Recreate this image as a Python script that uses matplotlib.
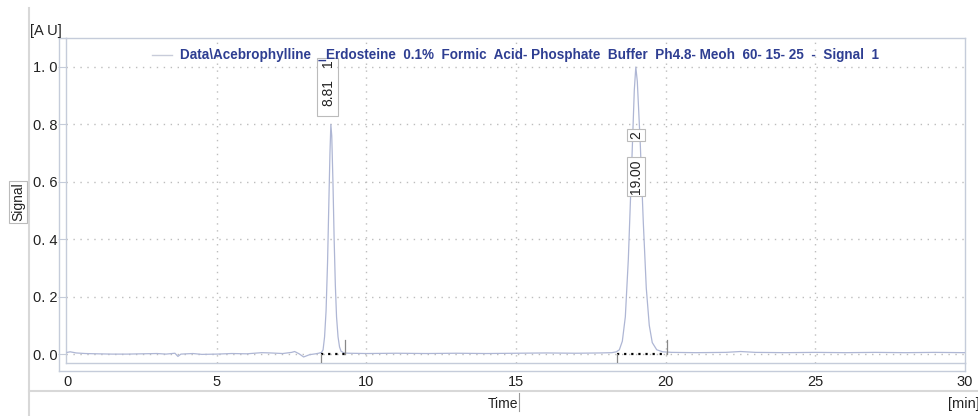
import matplotlib
matplotlib.use("Agg")
import matplotlib.pyplot as plt
from matplotlib.lines import Line2D
from matplotlib.patches import Rectangle
import numpy as np

# ---------------- data ----------------
time_min = [0.0, 0.1, 0.3, 0.6, 1.0, 1.5, 2.0, 2.5, 3.0, 3.3, 3.6, 3.7, 3.8, 4.2, 4.5,
            5.0, 5.5, 6.0, 6.5, 6.8, 7.2, 7.5, 7.6, 7.75, 7.9, 8.1, 8.3,
            8.40, 8.50, 8.55, 8.60, 8.65, 8.70, 8.75, 8.78, 8.81, 8.84, 8.88, 8.92,
            8.96, 9.00, 9.05, 9.10, 9.15, 9.25, 9.40,
            10.0, 11.0, 12.0, 13.0, 14.0, 15.0, 16.0, 17.0, 17.8, 18.2,
            18.35, 18.45, 18.55, 18.65, 18.75, 18.85, 18.95, 19.00, 19.05, 19.15,
            19.25, 19.35, 19.45, 19.55, 19.70, 19.90,
            20.2, 21.0, 22.0, 22.5, 23.0, 24.0, 25.0, 26.0, 27.0, 28.0, 29.0, 30.0]
signal_au = [0.006, 0.008, 0.004, 0.002, 0.001, 0.000, 0.000, 0.001, 0.002, 0.000, 0.003, -0.008, 0.000, 0.002, -0.001,
             0.000, 0.002, 0.001, 0.005, 0.004, 0.002, 0.006, 0.009, 0.001, -0.010, -0.002, 0.001,
             0.003, 0.006, 0.015, 0.060, 0.150, 0.320, 0.560, 0.700, 0.800, 0.760, 0.600, 0.400,
             0.240, 0.130, 0.060, 0.025, 0.010, 0.004, 0.003,
             0.002, 0.003, 0.002, 0.003, 0.002, 0.003, 0.004, 0.003, 0.004, 0.005,
             0.008, 0.015, 0.045, 0.130, 0.330, 0.620, 0.920, 1.000, 0.950, 0.730,
             0.460, 0.230, 0.100, 0.040, 0.015, 0.008,
             0.006, 0.005, 0.006, 0.009, 0.006, 0.005, 0.006, 0.005, 0.006, 0.005, 0.006, 0.005]

peak_numbers = ["1", "2"]
peak_rt = [8.81, 19.00]
peak_rt_labels = ["8.81", "19.00"]
peak_start = [8.49, 18.37]
peak_end = [9.28, 20.04]

x_ticks = [0, 5, 10, 15, 20, 25, 30]
x_tick_labels = ["0", "5", "10", "15", "20", "25", "30"]
y_ticks = [0.0, 0.2, 0.4, 0.6, 0.8, 1.0]
y_tick_labels = ["0. 0", "0. 2", "0. 4", "0. 6", "0. 8", "1. 0"]

legend_text = r"Data\Acebrophylline  _Erdosteine  0.1%  Formic  Acid- Phosphate  Buffer  Ph4.8- Meoh  60- 15- 25  -  Signal  1"

# ---------------- figure ----------------
W, H = 979, 416
fig = plt.figure(figsize=(W / 100, H / 100), dpi=100)
fig.patch.set_facecolor("white")

def fx(x):
    return x / W

def fy(y):
    return 1 - y / H

frame_c = "#C5CCDA"
panel_c = "#D8D8D8"
trace_c = "#AEB6D4"
grid_c = "#BDBDBD"
blue_c = "#2E3E92"
fam = ["Liberation Sans", "DejaVu Sans"]

ax_l, ax_r, ax_t, ax_b = 66, 965, 38, 363
ax = fig.add_axes([fx(ax_l), fy(ax_b), (ax_r - ax_l) / W, (ax_b - ax_t) / H])
ax.set_xlim(-0.04, 30.0)
ax.set_ylim(-0.031, 1.101)

for s in ax.spines.values():
    s.set_color(frame_c)
    s.set_linewidth(1.0)

ax.plot(time_min, signal_au, color=trace_c, lw=0.9, zorder=3)

# grid
for yv in y_ticks:
    ax.axhline(yv, color=grid_c, lw=1.0, ls=(0, (1, 4)), zorder=1)
for xv in x_ticks[1:-1]:
    ax.axvline(xv, color=grid_c, lw=1.0, ls=(0, (1, 4)), zorder=1)

ax.set_xticks(x_ticks)
ax.set_xticklabels(x_tick_labels)
ax.set_yticks(y_ticks)
ax.set_yticklabels(y_tick_labels)
ax.tick_params(axis="x", length=0, pad=9, labelsize=10.5, labelcolor="#222222")
ax.tick_params(axis="y", length=6, width=0.8, color=frame_c, pad=0, labelsize=10.5, labelcolor="#222222")
for lab in ax.get_xticklabels() + ax.get_yticklabels():
    lab.set_fontfamily(fam)

# integration baselines
for s0, e0 in zip(peak_start, peak_end):
    ax.plot([s0, e0], [0.0, 0.0], color="black", lw=1.6, ls=(0, (1, 2.2)), zorder=4)
    ax.plot([s0, s0], [-0.031, 0.0], color="#888888", lw=0.9, zorder=4)
    ax.plot([e0, e0], [0.0, 0.05], color="#888888", lw=0.9, zorder=4)

# peak labels (rotated, boxed)
ax.text(peak_rt[0] - 0.08, 1.015, peak_numbers[0], rotation=90, ha="center", va="center",
        fontsize=10, color="#222222", family=fam, zorder=6)
ax.text(peak_rt[0] - 0.08, 0.91, peak_rt_labels[0], rotation=90, ha="center", va="center",
        fontsize=10, color="#222222", family=fam, zorder=6)
ax.add_patch(Rectangle((8.36, 0.829), 0.70, 0.202, fill=False, ec="#BBBBBB", lw=0.8, zorder=6))
ax.text(peak_rt[1], 0.763, peak_numbers[1], rotation=90, ha="center", va="center",
        fontsize=10, color="#222222", family=fam, zorder=6,
        bbox=dict(boxstyle="square,pad=0.15", fc="white", ec="#BBBBBB", lw=0.8))
ax.text(peak_rt[1], 0.618, peak_rt_labels[1], rotation=90, ha="center", va="center",
        fontsize=10, color="#222222", family=fam, zorder=6,
        bbox=dict(boxstyle="square,pad=0.15", fc="white", ec="#BBBBBB", lw=0.8))

# legend line + text
fig.add_artist(Line2D([fx(152), fx(172)], [fy(55), fy(55)], color="#C8CCDA", lw=1.0))
t = fig.text(fx(180), fy(55), legend_text, ha="left", va="center", fontsize=11,
             fontweight="bold", color=blue_c,
             family=["Liberation Sans Narrow", "Liberation Sans", "DejaVu Sans"])
fig.canvas.draw()
bb = t.get_window_extent()
target = 882 - 180
t.set_fontsize(11 * target / bb.width)

# outer panel lines
def fline(x0, y0, x1, y1, c=panel_c, lw=1.0):
    fig.add_artist(Line2D([fx(x0), fx(x1)], [fy(y0), fy(y1)], color=c, lw=lw))

fline(59, 38, 59, 371, frame_c)
fline(59, 371, 965, 371, frame_c)
fline(965, 363, 965, 371, frame_c)
fline(59, 38, 66, 38, frame_c)
fline(29, 8, 29, 416, panel_c, 1.5)
fline(29, 391, 979, 391, panel_c, 1.5)

# axis labels
fig.text(fx(46), fy(31), "[A U]", ha="center", va="center", fontsize=10.5, color="#222222",
         family=fam)
fig.text(fx(18), fy(202), "Signal", rotation=90, ha="center", va="center", fontsize=10,
         color="#222222", family=fam,
         bbox=dict(boxstyle="square,pad=0.15", fc="white", ec="#BBBBBB", lw=0.8))
fig.text(fx(503), fy(404), "Time", ha="center", va="center", fontsize=10, color="#222222",
         family=fam)
fline(519, 393, 519, 411, "#999999", 0.8)
fig.text(fx(948), fy(404), "[min]", ha="left", va="center", fontsize=10.5, color="#222222",
         family=fam)

fig.savefig("out.png", dpi=100, facecolor="white")
